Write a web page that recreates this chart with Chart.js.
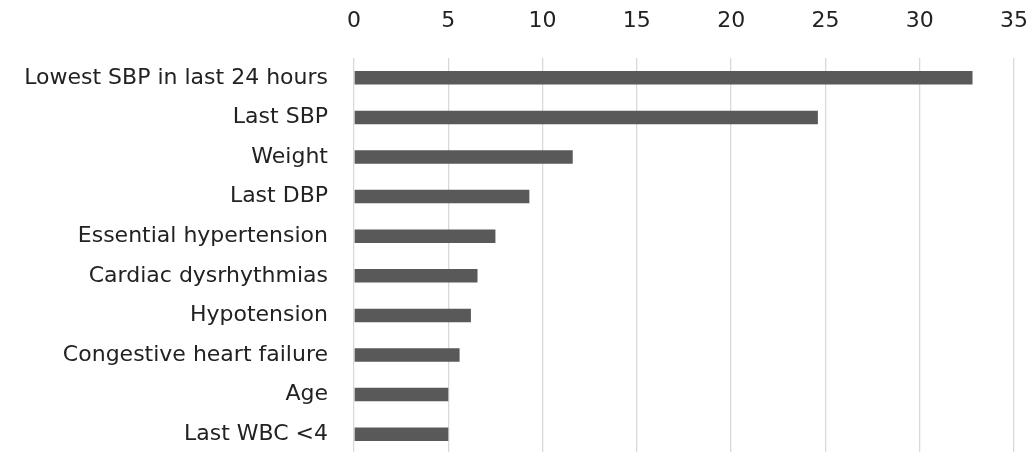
<!DOCTYPE html>
<html>
<head>
<meta charset="utf-8">
<script src="https://cdn.jsdelivr.net/npm/chart.js@4"></script>
<style>
  html, body { margin: 0; padding: 0; background: #fff; overflow: hidden; }
  #wrap { width: 1031px; height: 454px; position: relative; }
</style>
</head>
<body>
<div id="wrap"><canvas id="importanceChart"></canvas></div>
<script>
const features = [
  "Lowest SBP in last 24 hours",
  "Last SBP",
  "Weight",
  "Last DBP",
  "Essential hypertension",
  "Cardiac dysrhythmias",
  "Hypotension",
  "Congestive heart failure",
  "Age",
  "Last WBC <4"
];
const importance = [32.8, 24.6, 11.6, 9.3, 7.5, 6.55, 6.2, 5.6, 5.0, 5.0];
const axisMin = 0;
const axisMax = 35;
const axisStep = 5;

const labelFont = { family: "'DejaVu Sans', sans-serif", size: 22 };

// drop the automatic edge padding so the plot area spans the full canvas
const noEdgePadding = (scale) => {
  scale.paddingLeft = 0;
  scale.paddingRight = 0;
  scale.paddingTop = 0;
  scale.paddingBottom = 0;
};

document.addEventListener("DOMContentLoaded", () => {
  const ctx = document.getElementById("importanceChart").getContext("2d");
  new Chart(ctx, {
    type: "bar",
    data: {
      labels: features,
      datasets: [{
        data: importance,
        backgroundColor: "#595959",
        borderWidth: 0,
        barPercentage: 0.34,
        categoryPercentage: 1,
      }],
    },
    options: {
      indexAxis: "y",
      responsive: true,
      maintainAspectRatio: false,
      animation: false,
      layout: { padding: { left: 0, right: 17, top: 0, bottom: 0 } },
      plugins: {
        legend: { display: false },
        tooltip: { enabled: false },
      },
      scales: {
        x: {
          position: "top",
          min: axisMin,
          max: axisMax,
          ticks: { stepSize: axisStep, color: "#222", font: labelFont, padding: 24 },
          grid: { color: "#d9d9d9", lineWidth: 1.3, drawTicks: false },
          border: { display: false },
          afterFit: (scale) => { scale.height = 58; noEdgePadding(scale); },
        },
        y: {
          ticks: { color: "#222", font: labelFont, padding: 26, autoSkip: false },
          grid: { display: false, drawTicks: false },
          border: { display: false },
          afterFit: (scale) => { scale.width = 354; noEdgePadding(scale); },
        },
      },
    },
  });
});
</script>
</body>
</html>
